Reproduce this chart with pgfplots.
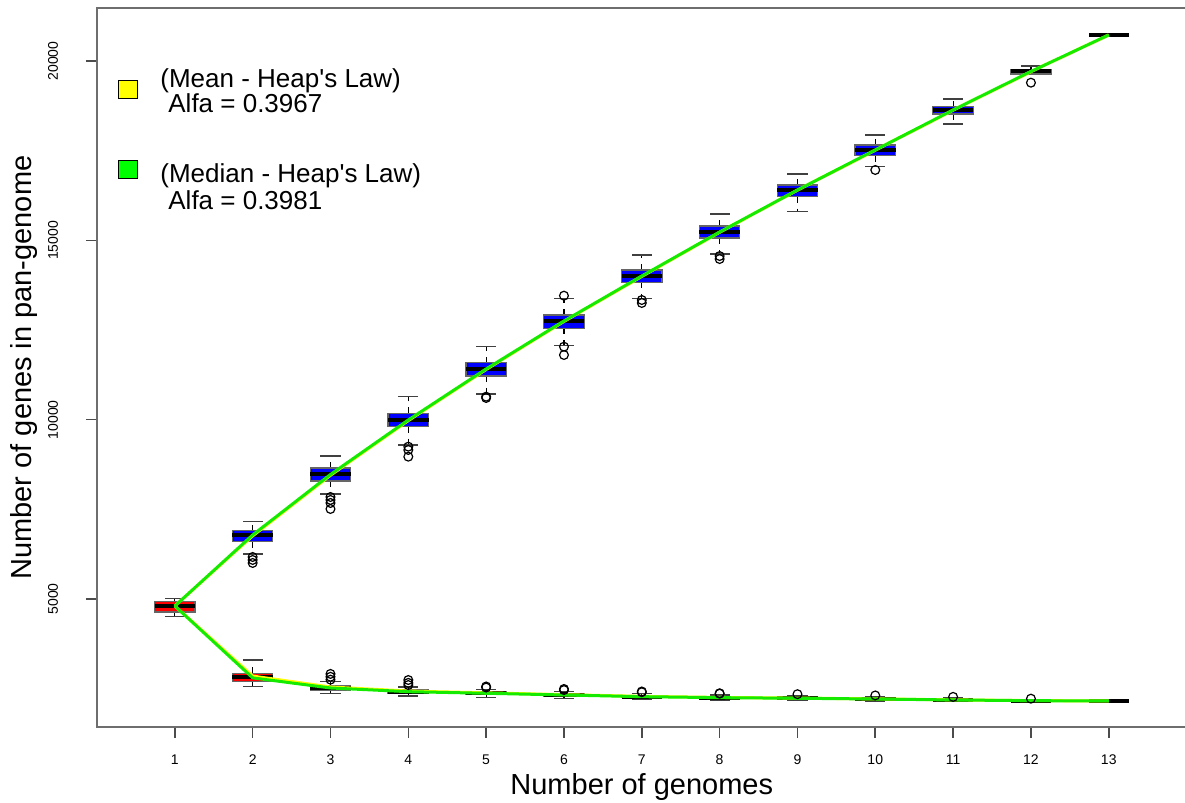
\documentclass[border=0pt]{standalone}
\usepackage{pgfplots}
\usepackage{pgfplotstable}
\pgfplotsset{compat=1.18}
\usepackage{fontspec}
\setmainfont{Liberation Sans}
\definecolor{lgreen}{RGB}{20,235,0}
\definecolor{lyellow}{RGB}{255,255,0}
\definecolor{framec}{RGB}{110,110,110}
% box statistics: x, lower whisker, lower quartile, median, upper quartile, upper whisker
\pgfplotstableread{
x wb q1 med q3 wt
2 6255 6598 6785 6905 7156
3 7928 8290 8472 8653 8988
4 9294 9805 9992 10178 10641
5 10717 11219 11414 11590 12035
6 12063 12549 12752 12920 13385
7 13385 13831 14007 14174 14592
8 14619 15066 15233 15400 15733
9 15800 16218 16405 16544 16851
10 17055 17362 17521 17660 17939
11 18246 18525 18636 18728 18943
12 19640 19640 19710 19771 19863
13 20728 20728 20728 20728 20728
}\pantab
\pgfplotstableread{
x wb q1 med q3 wt
1 4506 4637 4805 4925 5008
2 2554 2694 2817 2928 3299
3 2370 2462 2518 2574 2694
4 2290 2370 2415 2460 2540
5 2260 2335 2370 2410 2480
6 2230 2295 2323 2355 2420
7 2200 2250 2276 2305 2360
8 2180 2225 2248 2275 2320
9 2170 2210 2231 2255 2300
10 2155 2193 2211 2232 2275
11 2140 2168 2184 2200 2235
12 2130 2152 2164 2177 2200
13 2156 2156 2156 2156 2156
}\coretab
\pgfplotsset{
  whup/.style={draw=none, mark=none, forget plot,
    error bars/.cd, y dir=plus, y explicit, error mark=none,
    error bar style={draw=black, dashed, line width=0.6pt}},
  whdn/.style={draw=none, mark=none, forget plot,
    error bars/.cd, y dir=minus, y explicit, error mark=none,
    error bar style={draw=black, dashed, line width=0.6pt}},
  caps/.style={draw=none, mark=none, forget plot,
    error bars/.cd, x dir=both, x fixed=0.13, error mark=none,
    error bar style={draw=black!75, solid, line width=0.7pt}},
  meds/.style={draw=none, mark=none, forget plot,
    error bars/.cd, x dir=both, x fixed=0.26, error mark=none,
    error bar style={draw=black, solid, line width=2pt}},
  panbox/.style={fill=blue, draw=black!60, line width=0.6pt, forget plot},
  corebox/.style={fill=red, draw=black!60, line width=0.6pt, forget plot},
  outl/.style={only marks, mark=o, mark size=2.2pt, black, mark options={line width=0.6pt}},
}
\begin{document}
\begin{tikzpicture}
\path[use as bounding box] (-48.5pt,-38pt) rectangle (544pt,363.5pt);
\begin{axis}[
  at={(0pt,0pt)}, anchor=south west,
  scale only axis, width=544.8pt, height=359.5pt,
  xmin=0, xmax=14, ymin=1430, ymax=21480,
  xtick={1,...,13}, ytick={5000,10000,15000,20000},
  scaled y ticks=false,
  /pgf/number format/1000 sep={},
  /pgf/number format/assume math mode=true,
  tick pos=left, tick align=outside, major tick length=5.5pt,
  tick style={black!70, line width=0.8pt},
  axis line style={framec, line width=1pt},
  ticklabel style={font=\fontsize{7}{8}\selectfont},
  xticklabel style={anchor=center, yshift=-11pt},
  yticklabel style={xshift=-16.5pt, rotate=90, anchor=center},
  xlabel={Number of genomes}, ylabel={Number of genes in pan-genome},
  label style={font=\fontsize{14.5}{16}\selectfont},
  xlabel style={at={(axis description cs:0.5,-0.0834)}, anchor=center},
  ylabel style={at={(axis description cs:-0.067,0.5)}, anchor=center},
  clip=false,
]
% ---- pan-genome (blue) ----
\addplot[whup] table[x=x, y=q3, y error expr=\thisrow{wt}-\thisrow{q3}] {\pantab};
\addplot[whdn] table[x=x, y=q1, y error expr=\thisrow{q1}-\thisrow{wb}] {\pantab};
\addplot[caps] table[x=x, y=wt] {\pantab};
\addplot[caps] table[x=x, y=wb] {\pantab};
\addplot[panbox] coordinates {(1.74,6598) (2.26,6598) (2.26,6905) (1.74,6905)} --cycle;
\addplot[panbox] coordinates {(2.74,8290) (3.26,8290) (3.26,8653) (2.74,8653)} --cycle;
\addplot[panbox] coordinates {(3.74,9805) (4.26,9805) (4.26,10178) (3.74,10178)} --cycle;
\addplot[panbox] coordinates {(4.74,11219) (5.26,11219) (5.26,11590) (4.74,11590)} --cycle;
\addplot[panbox] coordinates {(5.74,12549) (6.26,12549) (6.26,12920) (5.74,12920)} --cycle;
\addplot[panbox] coordinates {(6.74,13831) (7.26,13831) (7.26,14174) (6.74,14174)} --cycle;
\addplot[panbox] coordinates {(7.74,15066) (8.26,15066) (8.26,15400) (7.74,15400)} --cycle;
\addplot[panbox] coordinates {(8.74,16218) (9.26,16218) (9.26,16544) (8.74,16544)} --cycle;
\addplot[panbox] coordinates {(9.74,17362) (10.26,17362) (10.26,17660) (9.74,17660)} --cycle;
\addplot[panbox] coordinates {(10.74,18525) (11.26,18525) (11.26,18728) (10.74,18728)} --cycle;
\addplot[panbox] coordinates {(11.74,19640) (12.26,19640) (12.26,19771) (11.74,19771)} --cycle;
\addplot[meds] table[x=x, y=med] {\pantab};
\addplot[outl] coordinates {(2,6171) (2,6088) (2,6004) (3,7844) (3,7761) (3,7677) (3,7510) (4,9247) (4,9155) (4,8968) (5,10641) (5,10605) (6,13458) (6,12035) (6,11804) (7,13337) (7,13254) (8,14563) (8,14480) (10,16963) (12,19397)};
% ---- core-genome (red) ----
\addplot[whup] table[x=x, y=q3, y error expr=\thisrow{wt}-\thisrow{q3}] {\coretab};
\addplot[whdn] table[x=x, y=q1, y error expr=\thisrow{q1}-\thisrow{wb}] {\coretab};
\addplot[caps] table[x=x, y=wt] {\coretab};
\addplot[caps] table[x=x, y=wb] {\coretab};
\addplot[corebox] coordinates {(0.74,4637) (1.26,4637) (1.26,4925) (0.74,4925)} --cycle;
\addplot[corebox] coordinates {(1.74,2694) (2.26,2694) (2.26,2928) (1.74,2928)} --cycle;
\addplot[corebox] coordinates {(2.74,2462) (3.26,2462) (3.26,2574) (2.74,2574)} --cycle;
\addplot[corebox] coordinates {(3.74,2370) (4.26,2370) (4.26,2460) (3.74,2460)} --cycle;
\addplot[corebox] coordinates {(4.74,2335) (5.26,2335) (5.26,2410) (4.74,2410)} --cycle;
\addplot[corebox] coordinates {(5.74,2295) (6.26,2295) (6.26,2355) (5.74,2355)} --cycle;
\addplot[corebox] coordinates {(6.74,2250) (7.26,2250) (7.26,2305) (6.74,2305)} --cycle;
\addplot[corebox] coordinates {(7.74,2225) (8.26,2225) (8.26,2275) (7.74,2275)} --cycle;
\addplot[corebox] coordinates {(8.74,2210) (9.26,2210) (9.26,2255) (8.74,2255)} --cycle;
\addplot[corebox] coordinates {(9.74,2193) (10.26,2193) (10.26,2232) (9.74,2232)} --cycle;
\addplot[corebox] coordinates {(10.74,2168) (11.26,2168) (11.26,2200) (10.74,2200)} --cycle;
\addplot[corebox] coordinates {(11.74,2152) (12.26,2152) (12.26,2177) (11.74,2177)} --cycle;
\addplot[meds] table[x=x, y=med] {\coretab};
\addplot[outl] coordinates {(3,2750) (3,2830) (3,2910) (4,2600) (4,2660) (4,2740) (5,2530) (5,2560) (6,2460) (6,2490) (7,2400) (7,2420) (8,2360) (8,2370) (9,2345) (10,2310) (11,2270) (12,2220)};
% ---- mean (yellow) and median (green) Heap's law lines ----
\addplot[lyellow, line width=1.5pt, mark=none] coordinates {(1,4805) (2,6760) (3,8450) (4,9975) (5,11400) (6,12740) (7,13995) (8,15225) (9,16400) (10,17515) (11,18630) (12,19705) (13,20728)};
\addplot[lyellow, line width=1.5pt, mark=none] coordinates {(1,4805) (2,2850) (3,2545) (4,2432) (5,2382) (6,2332) (7,2284) (8,2254) (9,2235) (10,2214) (11,2187) (12,2166) (13,2156)};
\addplot[lgreen, line width=1.5pt, mark=none] coordinates {(1,4805) (2,6785) (3,8472) (4,9992) (5,11414) (6,12752) (7,14007) (8,15233) (9,16405) (10,17521) (11,18636) (12,19710) (13,20728)};
\addplot[lgreen, line width=1.5pt, mark=none] coordinates {(1,4805) (2,2800) (3,2518) (4,2415) (5,2370) (6,2323) (7,2276) (8,2248) (9,2231) (10,2211) (11,2184) (12,2164) (13,2156)};
\end{axis}
% legend
\node[draw=black, fill=lyellow, minimum size=9pt, inner sep=0pt, line width=0.5pt] at (15.5pt,318.5pt) {};
\node[draw=black, fill=green, minimum size=9pt, inner sep=0pt, line width=0.5pt] at (15.5pt,278.5pt) {};
\begin{scope}[every node/.style={anchor=base west, inner sep=0pt, font=\fontsize{13}{15}\selectfont}]
\node at (31.5pt,319.5pt) {(Mean - Heap\textquotesingle s Law)};
\node at (35.5pt,307pt) {Alfa = 0.3967};
\node at (31.5pt,272pt) {(Median - Heap\textquotesingle s Law)};
\node at (35.5pt,258.5pt) {Alfa = 0.3981};
\end{scope}
\end{tikzpicture}
\end{document}
